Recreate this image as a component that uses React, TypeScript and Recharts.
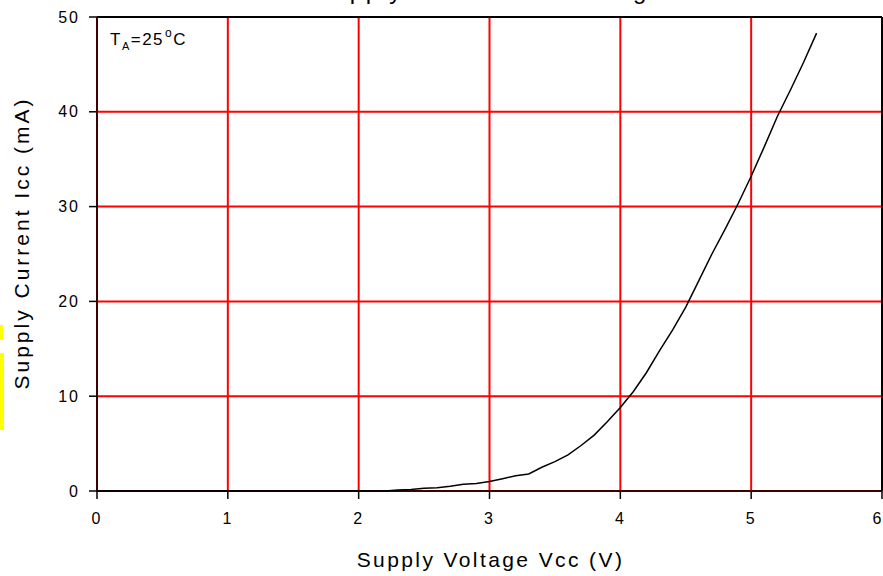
import React from 'react';
import {
  LineChart,
  Line,
  XAxis,
  YAxis,
  CartesianGrid,
  ReferenceLine,
} from 'recharts';

// supply voltage (V) and measured supply current (mA)
const voltage = [
  0, 0.5, 1, 1.5, 2, 2.2, 2.3, 2.4, 2.5, 2.6, 2.7, 2.8, 2.9, 3.0, 3.1, 3.2, 3.3, 3.4, 3.5,
  3.6, 3.7, 3.8, 3.9, 4.0, 4.1, 4.2, 4.3, 4.4, 4.5, 4.6, 4.7, 4.8, 4.9, 5.0, 5.1, 5.2,
  5.3, 5.4, 5.5,
];
const current = [
  0, 0, 0, 0, 0, 0, 0.1, 0.15, 0.3, 0.35, 0.5, 0.7, 0.8, 1.0, 1.3, 1.6, 1.8, 2.5, 3.1,
  3.8, 4.8, 5.9, 7.3, 8.8, 10.5, 12.5, 14.8, 17.0, 19.4, 22.2, 25.0, 27.6, 30.3, 33.2,
  36.3, 39.5, 42.3, 45.2, 48.3,
];

const xTicks = [0, 1, 2, 3, 4, 5, 6];
const yTicks = [0, 10, 20, 30, 40, 50];

const data = voltage.map((v, i) => ({ v, icc: current[i] }));

const FONT = '"Liberation Sans", Arial, sans-serif';
const tickStyle = { fontFamily: FONT, fontSize: 16, fill: '#000', letterSpacing: 2 };

const YTitle = ({ viewBox }: any) => {
  const cx = viewBox.x + 21;
  const cy = viewBox.y + viewBox.height / 2 - 11;
  return (
    <text
      x={cx}
      y={cy}
      transform={`rotate(-90 ${cx} ${cy})`}
      textAnchor="middle"
      dominantBaseline="central"
      fontFamily={FONT}
      fontSize={21}
      letterSpacing={3}
      fill="#000"
    >
      Supply Current Icc (mA)
    </text>
  );
};

const XTitle = ({ viewBox }: any) => (
  <text
    x={viewBox.x + viewBox.width / 2 + 1}
    y={viewBox.y + 76}
    textAnchor="middle"
    fontFamily={FONT}
    fontSize={21}
    letterSpacing={2.4}
    fill="#000"
  >
    Supply Voltage Vcc (V)
  </text>
);

export default function App() {
  return (
    <div style={{ position: 'absolute', left: 0, top: 0, width: 883, height: 576, overflow: 'hidden', background: '#fff' }}>
      <div style={{ position: 'absolute', left: 0, top: 325, width: 3, height: 15, background: '#ffff00' }} />
      <div style={{ position: 'absolute', left: 0, top: 353, width: 4, height: 77, background: '#ffff00' }} />
      <LineChart
        width={883}
        height={576}
        data={data}
        margin={{ top: 17, right: 1, left: 0, bottom: 0 }}
      >
        {/* title sits above the top edge; only its descenders show */}
        <text x={490} y={-1} textAnchor="middle" fontFamily={FONT} fontSize={24} letterSpacing={2.5} fill="#000">
          Supply Current vs. Voltage
        </text>
        <CartesianGrid stroke="#ff0000" strokeWidth={2} />
        <XAxis
          dataKey="v"
          type="number"
          domain={[0, 6]}
          ticks={xTicks}
          height={85}
          stroke="#000"
          strokeWidth={1.5}
          tickSize={8}
          tickMargin={14}
          tick={tickStyle}
          label={<XTitle />}
        />
        <YAxis
          type="number"
          domain={[0, 50]}
          ticks={yTicks}
          width={97}
          stroke="#000"
          strokeWidth={1.5}
          tickSize={8}
          tickMargin={9}
          tick={tickStyle}
          label={<YTitle />}
        />
        <ReferenceLine y={50} stroke="#000" strokeWidth={2} />
        <ReferenceLine x={6} stroke="#000" strokeWidth={2} />
        <Line
          type="linear"
          dataKey="icc"
          stroke="#000"
          strokeWidth={1.5}
          dot={false}
          isAnimationActive={false}
        />
        <text x={110} y={45} fontFamily={FONT} fontSize={17} letterSpacing={1.5} fill="#000">
          T
          <tspan fontSize={11} dy={5}>A</tspan>
          <tspan fontSize={17} dy={-5}>=25</tspan>
          <tspan fontSize={12} dy={-8} dx={1}>o</tspan>
          <tspan fontSize={17} dy={8}>C</tspan>
        </text>
      </LineChart>
    </div>
  );
}
